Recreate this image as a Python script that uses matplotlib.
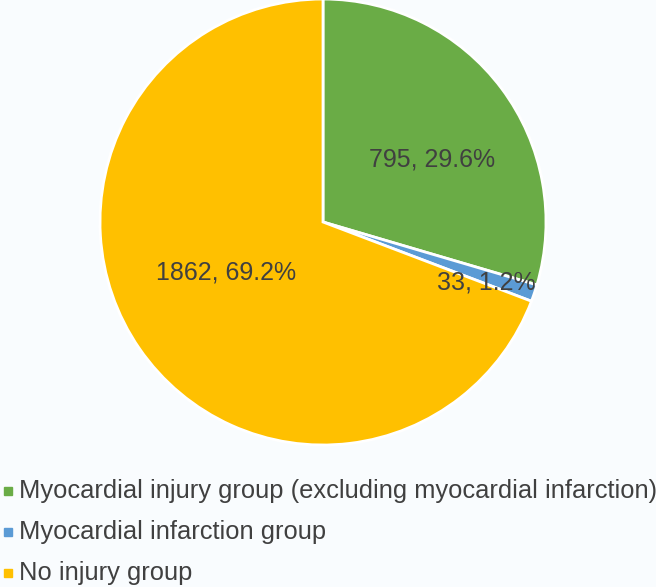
import matplotlib.pyplot as plt
import numpy as np
from matplotlib.patches import Rectangle

# data
groups = ['Myocardial injury group (excluding myocardial infarction)',
          'Myocardial infarction group',
          'No injury group']
counts = [795, 33, 1862]
colors = ['#6AAC46', '#5B9BD5', '#FFC000']

# label placement (radius as fraction, angle offset in deg)
label_dist = [0.565, 0.78, 0.49]
label_shift = [-7.2, -1.7, -7]

bg = '#F9FCFE'
txt = '#404040'
plt.rcParams['font.family'] = ['Liberation Sans', 'DejaVu Sans']

W, H = 656, 587
fig = plt.figure(figsize=(W / 100, H / 100), dpi=100, facecolor=bg)
cx, cy, r = 323, 222, 223
ax = fig.add_axes([(cx - r) / W, (H - cy - r) / H, 2 * r / W, 2 * r / H])
ax.set_facecolor(bg)

wedges, _ = ax.pie(counts, colors=colors, startangle=90, counterclock=False,
                   wedgeprops=dict(edgecolor='white', linewidth=2))
ax.set_xlim(-1, 1)
ax.set_ylim(-1, 1)
ax.set_aspect('equal')
ax.axis('off')

total = sum(counts)
for w, n, d, s in zip(wedges, counts, label_dist, label_shift):
    ang = np.deg2rad((w.theta1 + w.theta2) / 2 + s)
    ax.text(d * np.cos(ang), d * np.sin(ang), f'{n}, {100 * n / total:.1f}%',
            ha='center', va='center', fontsize=18, color=txt)

# legend
rows_y = [491, 532, 573]
for g, c, y in zip(groups, colors, rows_y):
    fig.patches.append(Rectangle((4 / W, 1 - (y + 4) / H), 8 / W, 8 / H,
                                 transform=fig.transFigure, color=c))
    fig.text(19 / W, 1 - y / H, g, ha='left', va='center',
             fontsize=18.4, color=txt)

fig.savefig('out.png', dpi=100, facecolor=bg)
